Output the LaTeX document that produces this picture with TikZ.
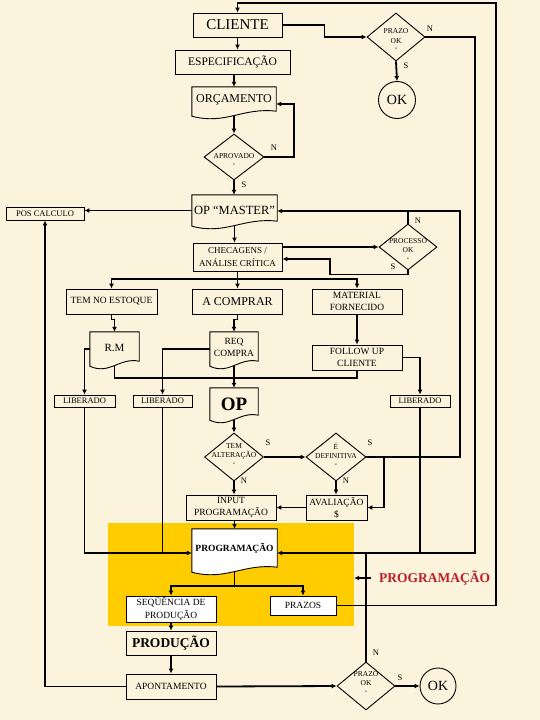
\documentclass[tikz,border=0pt]{standalone}
\usepackage{fontspec}
\setmainfont{Liberation Serif}
\usetikzlibrary{shapes.geometric,arrows.meta,calc}
\pgfdeclarelayer{bg}
\pgfsetlayers{bg,main}
\definecolor{paper}{HTML}{FCF3DC}
\definecolor{gold}{HTML}{FFCC00}
\definecolor{redlbl}{RGB}{190,30,40}
\newcommand{\myfs}[2]{\fontsize{#1pt}{#2pt}\selectfont}
\newcommand{\docout}[2][]{%
  \begin{pgfonlayer}{bg}
  \draw[line width=0.9pt,#1] (#2.north west) -- (#2.north east) -- ($(#2.south east)+(0,-5)$)
    .. controls ($(#2.south west)!0.6!(#2.south east)+(0,-9)$) and ($(#2.south west)!0.4!(#2.south east)+(0,9)$) .. (#2.south west) -- cycle;
  \end{pgfonlayer}}
\tikzset{
  conn/.style={line width=1.8pt},
  arr/.style={line width=1.8pt,-{Latex[length=5pt,width=5pt]}},
  rbox/.style={draw, line width=0.9pt, inner sep=0pt, align=center},
  wbox/.style={rbox, fill=white},
  dia/.style={draw, diamond, line width=0.9pt, inner sep=0pt},
  docn/.style={inner sep=0pt},
  okc/.style={draw, circle, line width=0.9pt, inner sep=0pt, font=\myfs{14}{14}},
  lab/.style={inner sep=0pt, font=\myfs{8.5}{8.5}},
  dtxt/.style={align=center, font=\myfs{7.5}{9.5}},
}
\begin{document}
\begin{tikzpicture}[x=1pt,y=-1pt]
\begin{pgfonlayer}{bg}
  \fill[paper] (0,0) rectangle (540,720);
  \node[fill=gold, minimum width=246pt, minimum height=103pt, inner sep=0pt] (ybox) at (231,574.5) {};
\end{pgfonlayer}
\useasboundingbox (0,0) rectangle (540,720);

% ---- nodes
\node[rbox, minimum width=89pt, minimum height=24pt, font=\myfs{15}{15}] (cli) at (237.5,25) {CLIENTE};
\node[rbox, minimum width=115pt, minimum height=24pt, font=\myfs{11.5}{12}] (esp) at (232.5,62) {ESPECIFICAÇÃO};
\node[docn, minimum width=84pt, minimum height=29pt, label={[font=\myfs{12}{12}, yshift=1.5pt]center:ORÇAMENTO}] (orc) at (234,101.5) {};
\docout{orc}
\node[dia, minimum width=58pt, minimum height=48pt, label={[dtxt, yshift=-4pt]center:PRAZO\\OK\\`}] (pz1) at (396,37) {};
\node[okc, minimum size=37pt] (ok1) at (397,100) {OK};
\node[dia, minimum width=60pt, minimum height=46pt, label={[dtxt, yshift=-4pt]center:APROVADO\\`}] (apr) at (234,157) {};
\node[rbox, minimum width=78pt, minimum height=13pt, font=\myfs{8.5}{8.5}] (pos) at (45,213.5) {POS CALCULO};
\node[docn, minimum width=85pt, minimum height=31pt, label={[font=\myfs{12.5}{12.5}]center:OP “MASTER”}] (opm) at (234.5,210.5) {};
\docout{opm}
\node[rbox, minimum width=89pt, minimum height=28pt, font=\myfs{9}{13}] (chk) at (237.5,257) {CHECAGENS /\\ANÁLISE CRÍTICA};
\node[dia, minimum width=58pt, minimum height=46pt, label={[dtxt, yshift=-3.5pt]center:PROCESSO\\OK\\`}] (proc) at (408,247) {};
\node[rbox, minimum width=91pt, minimum height=25pt, font=\myfs{9.5}{9.5}] (tem) at (111.5,301.5) {TEM NO ESTOQUE};
\node[rbox, minimum width=90pt, minimum height=25pt, font=\myfs{12}{12}] (acomp) at (237.5,301.5) {A COMPRAR};
\node[rbox, minimum width=90pt, minimum height=25pt, font=\myfs{9.5}{12}] (mat) at (357,301.5) {MATERIAL\\FORNECIDO};
\node[docn, minimum width=49pt, minimum height=34pt, label={[font=\myfs{11}{11}, yshift=1.5pt]center:R.M}] (rm) at (114.5,349) {};
\docout{rm}
\node[docn, minimum width=48pt, minimum height=34pt, label={[font=\myfs{9.5}{12}, align=center, yshift=2pt]center:REQ\\COMPRA}] (req) at (234,349) {};
\docout{req}
\node[rbox, minimum width=90pt, minimum height=25pt, font=\myfs{9.5}{12}] (fol) at (357,357.5) {FOLLOW UP\\CLIENTE};
\node[rbox, minimum width=61pt, minimum height=12pt, font=\myfs{8.5}{8.5}] (lib1) at (84.5,401) {LIBERADO};
\node[rbox, minimum width=59pt, minimum height=12pt, font=\myfs{8.5}{8.5}] (lib2) at (162.5,401) {LIBERADO};
\node[rbox, minimum width=60pt, minimum height=12pt, font=\myfs{8.5}{8.5}] (lib3) at (420,401) {LIBERADO};
\node[docn, minimum width=48pt, minimum height=32pt, label={[font=\bfseries\myfs{19}{19}]center:OP}] (op) at (234,404) {};
\docout{op}
\node[dia, minimum width=59pt, minimum height=48pt, label={[dtxt, yshift=1.5pt]center:TEM\\ALTERAÇÃO\\`}] (alt) at (234,457) {};
\node[dia, minimum width=60pt, minimum height=48pt, label={[dtxt, yshift=1.5pt]center:É\\DEFINITIVA\\`}] (def) at (336,457) {};
\node[rbox, minimum width=90pt, minimum height=25pt, font=\myfs{9.5}{12}] (inp) at (231,507.5) {INPUT\\PROGRAMAÇÃO};
\node[rbox, minimum width=61pt, minimum height=25pt, font=\myfs{9.5}{12}] (ava) at (336.5,507.5) {AVALIAÇÃO\\\$};
\node[docn, minimum width=85pt, minimum height=43pt, label={[font=\bfseries\myfs{9.5}{9.5}, yshift=2.5pt]center:PROGRAMAÇÃO}] (prog) at (234.5,550.5) {};
\docout[fill=white]{prog}
\node[wbox, minimum width=90pt, minimum height=26pt, font=\myfs{9.5}{13}] (seq) at (171,609) {SEQÜÊNCIA DE\\PRODUÇÃO};
\node[wbox, minimum width=66pt, minimum height=19pt, font=\myfs{9.5}{9.5}] (prz) at (303,605.5) {PRAZOS};
\node[rbox, minimum width=90pt, minimum height=24pt, font=\bfseries\myfs{13.5}{13.5}] (prod) at (171,643) {PRODUÇÃO};
\node[rbox, minimum width=90pt, minimum height=25pt, font=\myfs{9.5}{9.5}] (apt) at (171,686.5) {APONTAMENTO};
\node[dia, minimum width=58pt, minimum height=48pt, label={[dtxt, yshift=2.5pt]center:PRAZO\\OK\\`}] (pz2) at (366,686) {};
\node[okc, minimum size=36pt] (ok2) at (438,686) {OK};
\node[anchor=west, inner xsep=8pt, inner ysep=0pt, text=redlbl, font=\bfseries\myfs{13.5}{13.5}] (plbl) at (371,578) {PROGRAMAÇÃO};

% ---- connector labels
\node[lab] (lpz1n) at (430,29) {N};
\node[lab] (lpz1s) at (406,66) {S};
\node[lab] (laprn) at (274,148) {N};
\node[lab] (laprs) at (244,185) {S};
\node[lab] (lprocn) at (418,221) {N};
\node[lab] (lprocs) at (393,267) {S};
\node[lab] (lalts) at (268,443) {S};
\node[lab] (laltn) at (244,481) {N};
\node[lab] (ldefs) at (370,443) {S};
\node[lab] (ldefn) at (346,481) {N};
\node[lab] (lpz2n) at (376,653) {N};
\node[lab] (lpz2s) at (400,678) {S};

% ---- coordinates
\coordinate (al) at (294,104);
\coordinate (pl) at (330,259);
\coordinate (dr) at (460,211);
\coordinate (db) at (384,457);
\coordinate (dist) at (237.5,279);
\coordinate (rmf) at (357,378);
\coordinate (lj) at (84.5,553);
\coordinate (rj) at (475,553);
\coordinate (pb) at (234.5,586);
\coordinate (tr) at (496,3);

% ---- connectors
\draw[arr] (cli.south) -- (cli.south |- esp.north);
\draw[arr] (orc.north |- esp.south) -- (orc.north);
\draw[arr] (cli.east) -- ++(42,0) |- (pz1.west);
\draw[arr] (pz1.south) -- (ok1.north);
\draw[arr] (pz1.east) -| (rj) -- (prog.east |- rj);
\draw[arr] (orc.south) -- (apr.north);
\draw[arr] (apr.east) -| (al) -- (orc.east |- al);
\draw[arr] (apr.south) -- (apr.south |- opm.north);
\draw[arr] (opm.west) -- (opm.west -| pos.east);
\draw[arr] (opm.south) -- (opm.south |- chk.north);
\draw[arr] (chk.east |- proc.west) -- (proc.west);
\draw[arr] (proc.south) -- ++(0,4) -| (pl) -- (chk.east |- pl);
\draw[conn] (proc.north) -- (proc.north |- dr);
\draw[arr] (def.east) -| (dr) -- (opm.east |- dr);
\draw[arr] (db) |- (ava.east);
\draw[conn] (chk.south) -- (dist);
\draw[arr] (dist) -| (tem.north);
\draw[arr] (dist) -- (acomp.north);
\draw[arr] (dist) -| (mat.north);
\draw[arr] (tem.south) -- ++(0,5) -| (rm.north);
\draw[arr] (acomp.south) -- ++(0,5) -| (req.north);
\draw[arr] (mat.south) -- (fol.north);
\draw[arr] (rm.west) -| (lib1.north);
\draw[arr] (req.west) -| (lib2.north);
\draw[arr] (fol.east) -| (lib3.north);
\draw[conn] (rm.south) |- (rmf) -- (fol.south);
\draw[arr] (req.south) -- (op.north);
\draw[arr] (op.south) -- (alt.north);
\draw[arr] (alt.east) -- (def.west);
\draw[arr] (alt.south) -- (alt.south |- inp.north);
\draw[arr] (def.south) -- (def.south |- ava.north);
\draw[arr] (ava.west) -- (inp.east);
\draw[arr] (prog.north |- inp.south) -- (prog.north);
\draw[arr] (lib1.south) -- (lj) -- (prog.west |- lj);
\draw[conn] (lib2.south) -- (lib2.south |- lj);
\draw[conn] (lib3.south) -- (lib3.south |- rj);
\draw[conn] (pz2.north) -- (pz2.north |- rj);
\draw[conn] (prog.south) -- (pb);
\draw[arr] (pb) -| (seq.north);
\draw[arr] (pb) -| (prz.north);
\draw[arr] (prz.east) -| (tr) -| (cli.north);
\draw[arr] (seq.south) -- (prod.north);
\draw[arr] (prod.south) -- (apt.north);
\draw[arr] (apt.west) -| (pos.south);
\draw[arr] (apt.east) -- (pz2.west);
\draw[arr] (pz2.east) -- (ok2.west);
\draw[arr] (plbl.west) -- (plbl.west -| ybox.east);
\end{tikzpicture}
\end{document}
